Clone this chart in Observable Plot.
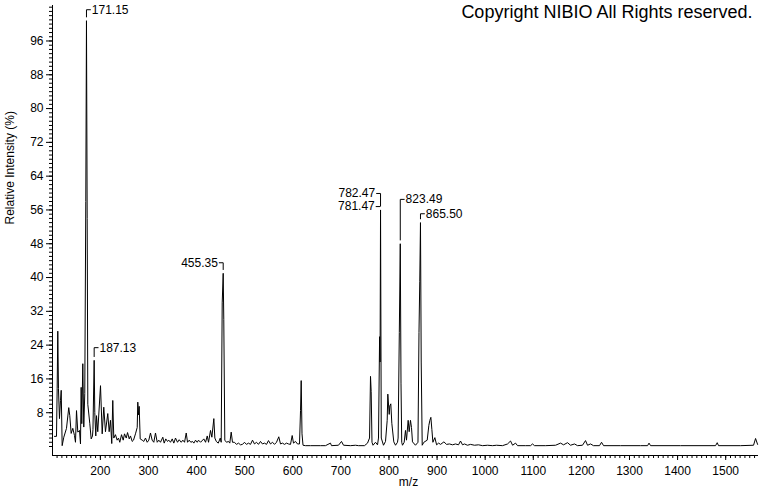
<!DOCTYPE html>
<html>
<head>
<meta charset="utf-8">
<script src="https://cdn.jsdelivr.net/npm/d3@7"></script>
<script src="https://cdn.jsdelivr.net/npm/@observablehq/plot@0.6"></script>
<style>
  html, body { margin: 0; padding: 0; background: #fff; }
  #chart svg { display: block; }
</style>
</head>
<body>
<div id="chart"></div>
<script>
// ---- Data ----
const mz = [
  104.6,108.8,110.2,111.5,112.9,115.0,117.1,118.6,120.6,124.0,129.6,134.3,136.4,139.3,142.7,146.2,148.3,150.4,153.1,156.6,
  158.7,160.1,161.4,163.5,165.5,167.6,169.7,171.15,172.6,173.9,178.0,180.9,183.6,184.6,187.13,188.4,190.5,192.0,194.6,200.3,
  203.8,207.1,210.6,215.4,218.3,221.0,223.7,225.8,227.9,231.4,234.9,237.7,240.4,244.0,247.5,250.2,253.8,256.5,260.0,262.6,
  266.2,268.9,273.0,276.6,277.8,279.3,280.7,282.8,287.0,290.3,293.8,297.4,300.7,304.2,307.7,311.1,314.6,318.2,321.5,325.0,
  329.8,332.7,336.0,339.6,342.3,345.8,349.4,352.7,356.2,360.4,363.9,368.1,371.5,375.0,378.5,381.2,384.7,388.1,391.6,394.4,
  397.9,401.4,404.1,408.3,415.1,418.7,422.2,424.9,429.0,431.8,435.9,438.0,441.0,445.1,449.3,451.2,453.3,455.35,456.6,458.7,
  462.2,466.4,469.1,472.0,474.7,478.8,483.0,487.2,491.3,495.5,499.6,503.8,507.9,512.1,516.3,520.4,524.6,528.7,532.9,537.0,
  541.2,545.4,549.5,553.7,557.9,562.0,566.2,570.9,574.5,578.6,582.8,587.0,591.1,595.3,598.8,601.5,605.7,609.8,614.0,616.1,
  617.5,619.2,621.3,626.4,636.8,657.6,668.0,678.4,680.5,695.0,701.3,705.5,720.0,730.4,736.7,749.1,755.4,759.6,761.6,763.0,
  764.7,766.8,772.0,776.2,778.2,780.5,781.47,782.47,784.0,788.6,792.8,796.3,797.6,800.5,801.7,803.8,805.9,810.0,813.6,817.7,
  819.0,821.5,823.49,825.0,826.5,828.1,831.6,834.3,836.4,839.9,842.0,844.7,846.8,848.9,855.1,860.3,862.4,864.0,865.5,867.0,
  869.1,872.5,879.5,882.9,885.0,887.1,889.2,891.3,895.4,899.0,903.2,907.3,914.2,919.6,925.8,932.1,938.3,944.6,948.7,952.9,
  957.0,963.2,969.5,977.8,986.1,994.5,1004.9,1015.3,1023.6,1036.0,1046.5,1052.7,1057.0,1063.1,1067.3,1083.9,1094.3,1098.4,1102.6,1125.5,
  1146.3,1156.7,1162.9,1171.2,1177.4,1185.8,1192.0,1202.3,1208.6,1212.8,1219.0,1225.2,1237.7,1241.9,1246.1,1281.4,1323.0,1337.6,1340.6,1343.8,
  1406.1,1478.9,1482.4,1485.1,1530.9,1557.9,1562.1,1566.3
];
const intensity = [
  2.4,2.4,13.7,27.3,13.7,6.6,10.9,13.3,0.2,2.2,4.3,9.2,7.3,3.1,4.3,2.6,1.0,8.5,3.4,3.8,
  0.6,14.0,5.4,19.6,4.6,12.5,58.0,100.8,54.0,10.0,5.5,1.8,2.5,4.0,20.4,8.0,2.5,7.3,3.5,14.4,
  3.0,9.3,3.5,7.8,3.5,6.2,0.7,10.9,2.0,2.8,1.5,2.0,1.0,2.8,1.5,3.0,2.0,3.3,1.8,2.5,
  1.2,1.5,3.0,4.5,10.5,7.5,9.5,1.8,1.5,1.2,2.0,1.0,1.5,3.2,1.5,1.0,3.2,1.0,1.5,1.0,
  2.2,0.8,1.8,1.2,1.5,1.0,1.8,0.8,2.0,1.0,1.6,1.0,1.5,1.0,3.2,1.0,1.5,1.0,1.2,0.8,
  1.5,1.0,1.5,1.0,1.8,1.0,2.5,1.0,3.8,2.2,6.6,2.0,1.2,0.8,2.0,1.0,34.0,41.0,30.0,1.5,
  1.0,1.2,0.8,3.4,1.0,1.0,0.5,0.8,0.4,0.5,1.0,0.5,0.8,0.5,1.5,0.6,1.0,0.5,1.2,0.6,
  0.8,0.5,1.4,0.6,1.0,0.5,1.0,2.3,0.6,0.8,0.5,0.8,0.6,0.5,2.6,0.8,1.2,0.6,0.6,8.5,
  15.6,3.0,0.3,0.2,0.2,0.2,0.2,0.8,0.2,0.3,1.2,0.3,0.2,0.3,0.2,0.2,0.8,2.0,16.6,13.0,
  1.0,0.3,1.0,0.4,2.0,26.0,20.0,56.0,2.0,0.3,1.2,6.2,12.4,7.6,9.6,10.1,5.5,1.1,0.3,1.0,
  2.0,27.0,48.0,15.0,1.0,0.3,1.0,3.8,1.5,6.2,3.5,6.2,4.5,1.1,0.3,1.0,27.0,39.0,53.0,20.0,
  0.3,1.0,1.5,5.0,6.2,6.9,4.0,1.0,2.1,0.4,0.8,0.5,1.1,0.5,0.6,0.4,0.6,0.4,1.3,0.4,
  0.6,0.3,0.5,0.3,0.4,0.2,0.3,0.2,0.3,0.2,0.6,1.3,0.3,0.8,0.2,0.2,0.2,0.6,0.2,0.2,
  0.3,0.8,0.4,0.9,0.3,0.6,0.2,0.3,1.4,0.3,0.6,0.2,0.2,1.0,0.2,0.2,0.2,0.2,0.8,0.2,
  0.2,0.2,0.9,0.2,0.2,0.3,1.9,0.5
];

// labelled peaks
const peakLabels = ["171.15", "187.13", "455.35", "781.47", "782.47", "823.49", "865.50"];
const peakMz     = [171.15, 187.13, 455.35, 781.47, 782.47, 823.49, 865.50];
const peakHeight = [100.8, 20.4, 41.0, 56.0, 56.0, 48.0, 53.0];

const yTickValues = d3.range(8, 100, 8);
const xTickValues = d3.range(200, 1600, 100);

// ---- Layout (annotation placement, not data) ----
const labelLevel = [103.4, 23.4, 43.5, 56.8, 59.9, 58.5, 55.1];
const labelSide  = [1, 1, -1, -1, -1, 1, 1];

const spectrum = mz.map((m, i) => ({mz: m, rel: intensity[i]}));
const ann = peakLabels.map((t, i) => ({
  text: t, mz: peakMz[i], top: Math.min(peakHeight[i] + 0.8, labelLevel[i]),
  level: labelLevel[i], side: labelSide[i]
}));
const tickLen = 9; // in m/z units (~4 px)
const annRight = ann.filter(d => d.side > 0);
const annLeft = ann.filter(d => d.side < 0);

const yMin = -2.13, yMax = 104.4;
const xMin = 100.5, xMax = 1568.2;
const font = "Arial, 'Liberation Sans', sans-serif";

const chart = Plot.plot({
  width: 760,
  height: 492,
  marginLeft: 52,
  marginRight: 2,
  marginTop: 5,
  marginBottom: 37,
  style: {fontFamily: font, fontSize: "12px", color: "#000", background: "#fff"},
  x: {domain: [xMin, xMax]},
  y: {domain: [yMin, yMax]},
  marks: [
    // minor & major y ticks
    Plot.axisY({ticks: d3.range(0, 105, 1), tickSize: 3, text: null, label: null}),
    Plot.axisY({ticks: yTickValues, tickSize: 6, tickPadding: 3, label: null, fontSize: 12}),
    // minor & major x ticks
    Plot.axisX({ticks: d3.range(110, 1570, 10), tickSize: 3, text: null, label: null}),
    Plot.axisX({ticks: xTickValues, tickSize: 5, tickPadding: 6, tickFormat: d => String(d), label: null, fontSize: 12}),
    // axis lines
    Plot.ruleX([xMin], {stroke: "#000"}),
    Plot.ruleY([yMin], {stroke: "#000"}),
    // spectrum
    Plot.line(spectrum, {x: "mz", y: "rel", stroke: "#000", strokeWidth: 1}),
    // annotation brackets
    Plot.link(ann, {x1: "mz", x2: "mz", y1: "top", y2: "level", stroke: "#000"}),
    Plot.link(ann, {x1: "mz", x2: d => d.mz + d.side * tickLen, y1: "level", y2: "level", stroke: "#000"}),
    Plot.text(annRight, {x: d => d.mz + tickLen, y: "level", text: "text", textAnchor: "start", dx: 1, fontSize: 12, fill: "#000"}),
    Plot.text(annLeft, {x: d => d.mz - tickLen, y: "level", text: "text", textAnchor: "end", dx: -1, fontSize: 12, fill: "#000"}),
    // axis titles
    Plot.text(["Relative Intensity (%)"], {frameAnchor: "left", rotate: -90, dx: -42, dy: -6, fontSize: 12, fill: "#000"}),
    Plot.text(["m/z"], {frameAnchor: "bottom", dy: 30, dx: 3, fontSize: 12, fill: "#000"}),
    // copyright
    Plot.text(["Copyright NIBIO All Rights reserved."], {frameAnchor: "top-right", textAnchor: "end", lineAnchor: "top", dx: -6, dy: 0, fontSize: 18, fill: "#000"})
  ]
});
document.getElementById("chart").appendChild(chart);
</script>
</body>
</html>
